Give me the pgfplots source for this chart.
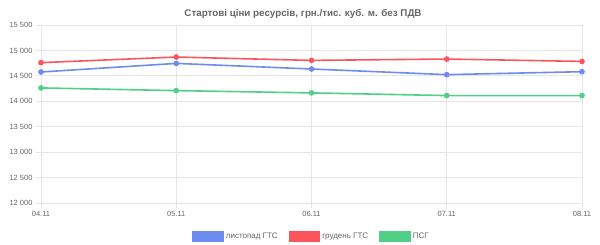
\documentclass[border=0pt]{standalone}
\usepackage{pgfplots}
\pgfplotsset{compat=1.18}
\usepackage{fontspec}
\setmainfont{Liberation Sans}
\definecolor{cblue}{RGB}{110,140,240}
\definecolor{cred}{RGB}{250,85,90}
\definecolor{cgreen}{RGB}{80,208,135}
\definecolor{tgrey}{RGB}{102,102,102}
\definecolor{ggrey}{RGB}{230,230,230}
\begin{document}
\begin{tikzpicture}[x=1pt,y=1pt]
\path[use as bounding box] (0,0) rectangle (600,244);
\node[font=\fontsize{9.8}{11}\selectfont\bfseries, text=tgrey] at (303,230) {Стартові ціни ресурсів, грн./тис. куб. м. без ПДВ};
\begin{axis}[
  at={(41pt,41pt)}, anchor=south west,
  scale only axis, width=541pt, height=178pt,
  xmin=0, xmax=4, ymin=12000, ymax=15500,
  scaled y ticks=false,
  xtick={0,1,2,3,4},
  xticklabels={04.11,05.11,06.11,07.11,08.11},
  ytick={12000,12500,13000,13500,14000,14500,15000,15500},
  yticklabels={12 000,12 500,13 000,13 500,14 000,14 500,15 000,15 500},
  grid=major,
  major grid style={ggrey, line width=0.8pt},
  axis line style={draw=none},
  tick style={ggrey, line width=0.8pt},
  tick align=outside,
  major tick length=5pt,
  xtick pos=bottom, ytick pos=left,
  tick label style={font=\fontsize{7.5}{9}\selectfont, text=tgrey},
  legend style={at={(0.5,-0.145)}, anchor=north, draw=none, fill=none,
    legend columns=-1, font=\fontsize{8}{9}\selectfont, text=tgrey,
    /tikz/every even column/.append style={column sep=9pt}},
  every axis plot/.append style={line width=1.6pt, mark=*, mark size=2pt},
]
\addplot[cblue, mark options={fill=cblue}, legend image code/.code={\fill[cblue] (0pt,-4.5pt) rectangle (30pt,5pt);}] coordinates {(0,14576) (1,14745) (2,14635) (3,14524) (4,14582)};
\addlegendentry{листопад ГТС}
\addplot[cred, mark options={fill=cred}, legend image code/.code={\fill[cred] (0pt,-4.5pt) rectangle (30pt,5pt);}] coordinates {(0,14760) (1,14870) (2,14804) (3,14831) (4,14784)};
\addlegendentry{грудень ГТС}
\addplot[cgreen, mark options={fill=cgreen}, legend image code/.code={\fill[cgreen] (0pt,-4.5pt) rectangle (30pt,5pt);}] coordinates {(0,14263) (1,14210) (2,14165) (3,14112) (4,14112)};
\addlegendentry{ПСГ}
\end{axis}
\end{tikzpicture}
\end{document}
